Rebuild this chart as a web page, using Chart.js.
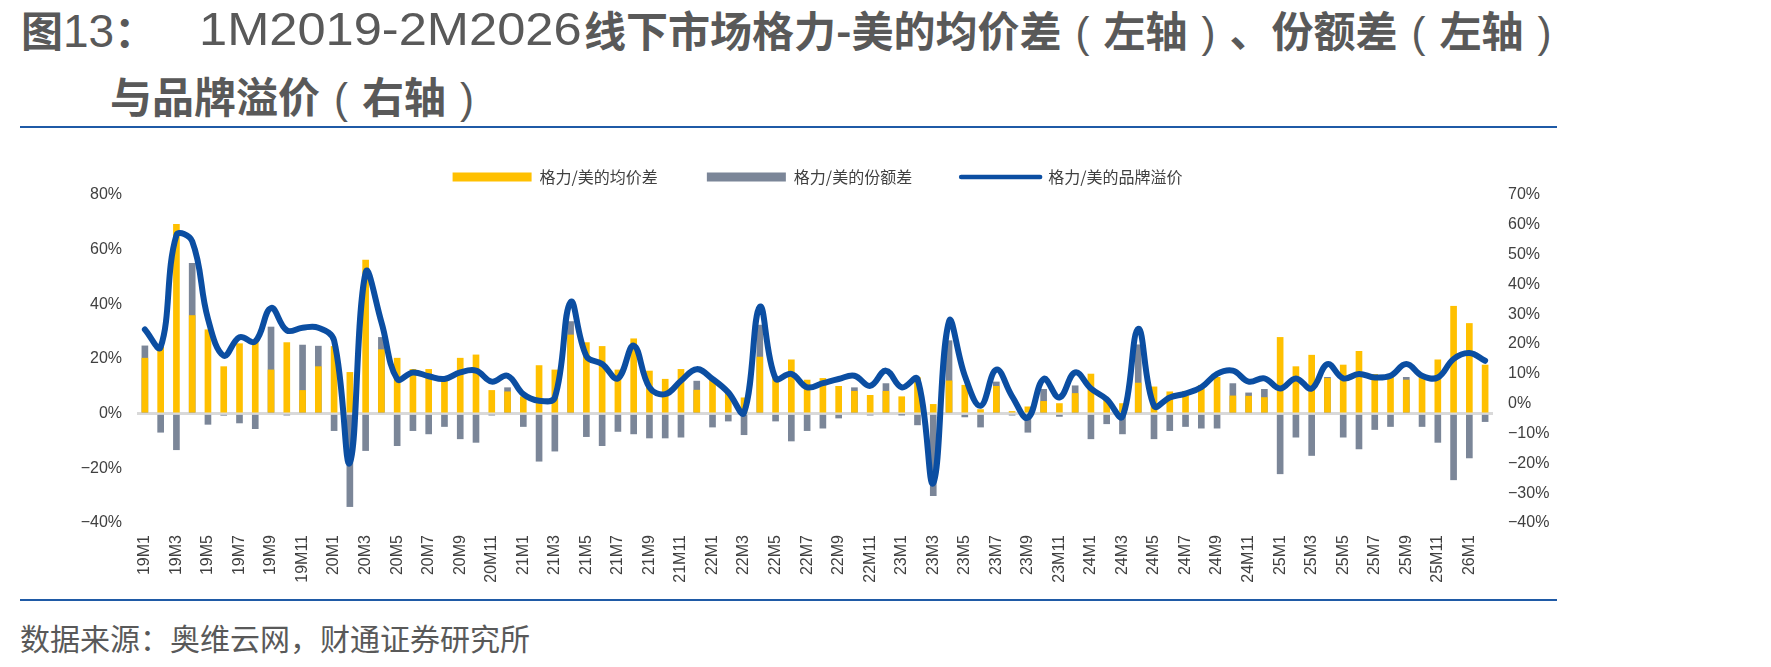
<!DOCTYPE html>
<html lang="zh-CN">
<head>
<meta charset="utf-8">
<title>格力-美的均价差、份额差与品牌溢价</title>
<script src="https://cdn.jsdelivr.net/npm/chart.js@4.4.1/dist/chart.umd.min.js"></script>
<style>
    html, body { margin: 0; padding: 0; background: #fff; }
    body { width: 1771px; height: 667px; position: relative; overflow: hidden; color: #595959; }
    .title { position: absolute; font-family: "Noto Sans CJK SC", sans-serif; font-size: 42px; font-weight: 700; line-height: 42px; white-space: nowrap; }
    .title .latin, .title.latin { font-family: "Liberation Sans", Arial, sans-serif; font-size: 46px; font-weight: 400; }
    .title.wide { transform: scaleX(1.10); transform-origin: left center; }
    .title .p { display: inline-block; width: 42px; text-align: center; font-family: "Liberation Sans", Arial, sans-serif; font-weight: 400; }
    .rule { position: absolute; left: 20px; width: 1537px; height: 2px; background: #1f5aa6; }
    .source { position: absolute; left: 20px; top: 622px; font-family: "Noto Sans CJK SC", sans-serif; font-size: 30px; line-height: 30px; white-space: nowrap; }
    #chartBox { position: absolute; left: 0; top: 120px; }
</style>
</head>
<body>
<div class="title" style="left:21px; top:8px;">图<span class="latin">13</span>：</div>
<div class="title latin wide" style="left:199px; top:8px;">1M2019-2M2026</div>
<div class="title" style="left:584px; top:8px;">线下市场格力-美的均价差<span class="p">(</span>左轴<span class="p">)</span>、份额差<span class="p">(</span>左轴<span class="p">)</span></div>
<div class="title" style="left:110px; top:74px;">与品牌溢价<span class="p">(</span>右轴<span class="p">)</span></div>
<div class="rule" style="top:126px;"></div>

<div id="chartBox"><canvas id="gapChart" width="1635" height="480"></canvas></div>

<div class="rule" style="top:599px;"></div>
<div class="source">数据来源：奥维云网，财通证券研究所</div>

<script>
// Months 19M1 .. 26M2
const categories = [];
for (let y = 19; y <= 26; y++) {
    const lastMonth = y === 26 ? 2 : 12;
    for (let m = 1; m <= lastMonth; m++) categories.push(y + 'M' + m);
}

// 格力/美的均价差 (left axis, %)
const priceGap = [
    20.3, 24.6, 69.3, 35.9, 30.7, 17.2, 25.6, 26.4, 16, 26, 8.5, 17.2,
    24.6, 15.1, 56.2, 23.4, 20.3, 16.2, 16.2, 13.5, 20.3, 21.5, 8.5, 8,
    6.2, 17.6, 16, 28.8, 26, 24.6, 16, 27.4, 15.6, 12.6, 16.2, 8.6,
    12.3, 7.4, 5.8, 20.7, 12.9, 19.7, 12.3, 12.9, 10, 8.2, 6.7, 8.2,
    6.2, 13.2, 3.4, 12, 10.4, 1.5, 10, 0.8, 2.5, 4.5, 3.7, 7.4,
    14.5, 4.9, 3.7, 11.2, 9.8, 8, 8.2, 10.4, 13.3, 6.5, 6.4, 5.9,
    27.9, 17.2, 21.4, 12.9, 17.8, 22.8, 14.4, 13.5, 12.3, 13.5, 19.7, 39.3,
    33, 17.8
];

// 格力/美的份额差 (left axis, %)
const shareGap = [
    24.8, -6.8, -13.2, 55, -3.9, -0.6, -3.4, -5.5, 31.7, -0.5, 25.1, 24.7,
    -6.2, -34, -13.5, 27.9, -11.7, -6.2, -7.4, -4.7, -9.2, -10.5, -0.5, 9.5,
    -4.7, -17.4, -13.7, 33.7, -8.4, -11.7, -6.5, -7.4, -8.9, -8.9, -8.6, 11.9,
    -4.9, -2.7, -7.7, 32.4, -2.7, -10, -6.2, -5.3, -1.6, 9.5, -0.5, 11,
    -0.3, -4.1, -30, 26.7, -1.2, -4.9, 11.6, -0.5, -6.8, 8.9, -1, 10.2,
    -9.2, -3.7, -7.4, 25.2, -9.2, -6.2, -4.7, -5.3, -5.3, 11, 7.6, 8.9,
    -22, -8.6, -15.3, 13.3, -8.6, -12.9, -5.8, -4.7, 13.3, -4.7, -10.5, -24.2,
    -16.2, -2.9
];

// 格力/美的品牌溢价 (right axis, %)
const brandPremium = [
    24.9, 19, 56.5, 54.5, 28.5, 16.1, 22.3, 20.9, 32.1, 24.6, 25.5, 25.5,
    21.2, -19.8, 44, 27.4, 8.3, 10.5, 9.2, 8.3, 10.5, 11.1, 7.4, 9.4,
    3.2, 1, 2.1, 34.1, 16, 13.3, 8.5, 19.5, 5.5, 3.2, 7.7, 11.6,
    8.3, 3.8, -3, 32.5, 8.5, 10, 5.5, 6.9, 8.3, 9.4, 6, 11.1,
    5.5, 8.3, -26.6, 27.6, 9.4, -0.7, 11.4, 2.5, -4.7, 8.3, 2.1, 10.5,
    5.1, 1.5, -4.3, 25.1, -0.7, 2.1, 3.4, 5.5, 10, 11.1, 7.4, 8.5,
    5.1, 8.5, 5.1, 13.3, 8.5, 10, 8.8, 9.4, 13.3, 9.4, 8.8, 15,
    17, 14.4
];

// axis ranges (%)
const leftAxis = { min: -40, max: 80, step: 20 };
const rightAxis = { min: -40, max: 70, step: 10 };

const colors = {
    price: '#ffc000',
    share: '#7b8698',
    premium: '#0b4ea2',
    zero: '#d9d9d9',
    text: '#404040'
};

const tickFont = { family: '"Liberation Sans", Arial, sans-serif', size: 16 };
const pct = v => (v < 0 ? '\u2212' : '') + Math.abs(v) + '%';

const ctx = document.getElementById('gapChart').getContext('2d');
new Chart(ctx, {
    data: {
        labels: categories,
        datasets: [
            {
                type: 'bar',
                label: '格力/美的均价差',
                data: priceGap,
                backgroundColor: colors.price,
                yAxisID: 'y',
                grouped: false,
                barThickness: 6,
                order: 1
            },
            {
                type: 'bar',
                label: '格力/美的份额差',
                data: shareGap,
                backgroundColor: colors.share,
                yAxisID: 'y',
                grouped: false,
                barThickness: 6,
                order: 2
            },
            {
                type: 'line',
                label: '格力/美的品牌溢价',
                data: brandPremium,
                borderColor: colors.premium,
                backgroundColor: colors.premium,
                borderWidth: 6,
                borderCapStyle: 'round',
                borderJoinStyle: 'round',
                pointRadius: 0,
                tension: 0.4,
                yAxisID: 'y1',
                order: 0
            }
        ]
    },
    options: {
        responsive: false,
        animation: false,
        layout: { padding: 0 },
        plugins: {
            tooltip: { enabled: false },
            legend: {
                position: 'top',
                maxHeight: 78,
                labels: {
                    usePointStyle: true,
                    pointStyleWidth: 79,
                    boxHeight: 9,
                    padding: 49,
                    color: colors.text,
                    font: { family: '"Noto Sans CJK SC", sans-serif', size: 16 },
                    generateLabels: (chart) => chart.data.datasets.map((ds, i) => ({
                        text: ds.label,
                        datasetIndex: i,
                        fillStyle: ds.type === 'line' ? 'transparent' : ds.backgroundColor,
                        strokeStyle: ds.type === 'line' ? ds.borderColor : ds.backgroundColor,
                        lineWidth: ds.type === 'line' ? 4.5 : 0,
                        lineCap: 'round',
                        pointStyle: ds.type === 'line' ? 'line' : 'rect',
                        fontColor: colors.text,
                        hidden: false
                    }))
                }
            }
        },
        scales: {
            x: {
                offset: true,
                grid: { display: false, drawTicks: false },
                border: { display: false },
                ticks: {
                    autoSkip: false,
                    minRotation: 90,
                    maxRotation: 90,
                    padding: 12,
                    color: colors.text,
                    font: tickFont,
                    callback: function (value, index) {
                        return index % 2 === 0 ? this.getLabelForValue(value) : '';
                    }
                },
                afterFit: (scale) => { scale.height = 77; }
            },
            y: {
                position: 'left',
                min: leftAxis.min,
                max: leftAxis.max,
                border: { display: false },
                grid: {
                    drawTicks: false,
                    color: (c) => c.tick && c.tick.value === 0 ? colors.zero : 'transparent',
                    lineWidth: 3
                },
                ticks: {
                    stepSize: leftAxis.step,
                    padding: 15,
                    color: colors.text,
                    font: tickFont,
                    callback: pct
                },
                afterFit: (scale) => { scale.width = 137; }
            },
            y1: {
                position: 'right',
                min: rightAxis.min,
                max: rightAxis.max,
                border: { display: false },
                grid: { display: false, drawTicks: false },
                ticks: {
                    stepSize: rightAxis.step,
                    padding: 15,
                    color: colors.text,
                    font: tickFont,
                    callback: pct
                },
                afterFit: (scale) => { scale.width = 142; }
            }
        }
    }
});
</script>
</body>
</html>
